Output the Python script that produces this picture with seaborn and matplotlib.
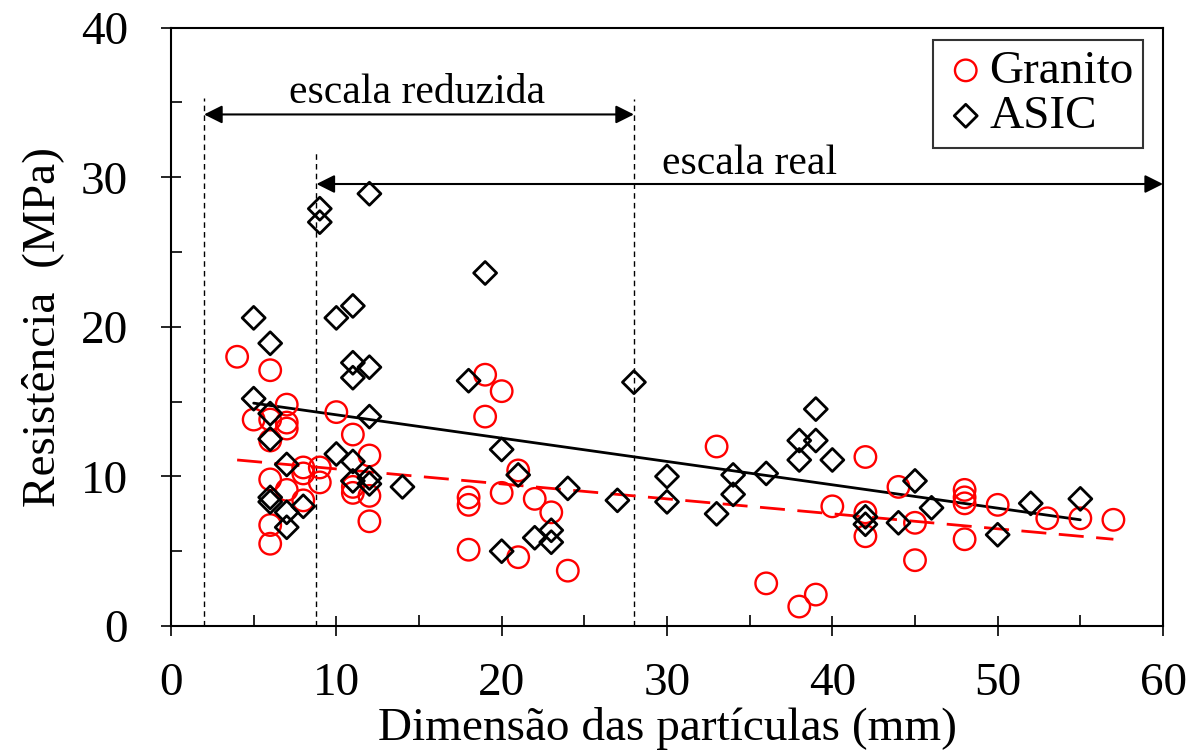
import matplotlib
matplotlib.use("Agg")
import matplotlib.pyplot as plt
import seaborn as sns
import pandas as pd
from matplotlib.ticker import MultipleLocator

# ---------------- data ----------------
granito_x = [4, 6, 7, 5, 6, 7, 7, 6, 10, 11, 12, 8, 8, 9, 9, 6, 7, 8, 11, 11, 12, 6, 6, 12,
             19, 20, 19, 21, 18, 18, 20, 22, 23, 18, 21, 24,
             33, 42, 40, 42, 42, 44, 36, 39, 38, 45, 45, 48, 48, 48, 48, 50, 53, 55, 57]
granito_y = [18.0, 17.1, 14.8, 13.8, 13.8, 13.6, 13.2, 12.4, 14.3, 12.8, 11.4, 10.6, 10.2, 10.6, 9.6,
             9.8, 9.1, 8.4, 9.3, 8.9, 8.7, 6.75, 5.5, 7.0,
             16.8, 15.7, 14.0, 10.4, 8.6, 8.1, 8.9, 8.5, 7.6, 5.1, 4.6, 3.7,
             12.0, 11.3, 8.0, 7.6, 6.0, 9.3, 2.85, 2.1, 1.3, 6.9, 4.4, 9.1, 8.6, 8.2, 5.8, 8.1, 7.2, 7.2, 7.1]

asic_x = [5, 6, 5, 6, 6, 7, 6, 6, 7, 7, 8, 10, 11, 11, 11, 12, 12, 10, 11, 11, 12, 12, 14,
          9, 9, 12, 19, 18, 28, 20, 21, 24, 27, 22, 23, 23, 20,
          30, 30, 33, 34, 34, 36, 39, 38, 39, 38, 40, 42, 42, 44, 45, 46, 50, 52, 55]
asic_y = [20.6, 18.9, 15.2, 14.2, 12.5, 10.8, 8.6, 8.3, 7.6, 6.6, 8.0, 20.6, 21.4, 17.6, 16.6, 17.3,
          14.0, 11.5, 11.0, 9.7, 9.9, 9.5, 9.3,
          27.9, 27.0, 28.9, 23.6, 16.4, 16.3, 11.8, 10.1, 9.2, 8.4, 5.9, 6.4, 5.6, 5.0,
          10.0, 8.3, 7.5, 10.1, 8.8, 10.2, 14.5, 12.4, 12.4, 11.1, 11.1, 7.3, 6.8, 6.9, 9.7, 7.9, 6.1, 8.2, 8.5]

granito_trend_x = [4, 57]
granito_trend_y = [11.1, 5.8]
asic_trend_x = [5, 55]
asic_trend_y = [14.9, 7.1]

x_ticks = [0, 10, 20, 30, 40, 50, 60]
y_ticks = [0, 10, 20, 30, 40]

scale_line_x = [2, 8.8, 28]
scale_line_top = [35.3, 31.6, 35.2]
reduzida_span = [2, 28]
reduzida_level = 34.2
real_span = [8.8, 60]
real_level = 29.55

series_labels = ["Granito", "ASIC"]
x_label = "Dimensão das partículas (mm)"
y_label = "Resistência  (MPa)"

# ---------------- style ----------------
sns.set_theme(style="white")
plt.rcParams["font.family"] = ["Liberation Serif", "DejaVu Serif"]
plt.rcParams["text.color"] = "black"
plt.rcParams["axes.labelcolor"] = "black"
plt.rcParams["xtick.color"] = "black"
plt.rcParams["ytick.color"] = "black"

W, H = 1201, 750
fig = plt.figure(figsize=(W / 100, H / 100), dpi=100)
ax = fig.add_axes([171 / W, 1 - 626 / H, 992 / W, 598.3 / H])

# vertical dashed scale lines
for xv, top in zip(scale_line_x, scale_line_top):
    ax.plot([xv, xv], [0, top], color="black", lw=1.0, linestyle=(0, (4, 3)), zorder=1)

# arrows
arrow_kw = dict(arrowstyle="<|-|>,head_length=0.5,head_width=0.25", color="black",
                lw=1.5, mutation_scale=22, shrinkA=0, shrinkB=0)
ax.annotate("", xy=(reduzida_span[0], reduzida_level), xytext=(reduzida_span[1], reduzida_level),
            arrowprops=arrow_kw, annotation_clip=False)
ax.annotate("", xy=(real_span[0], real_level), xytext=(real_span[1], real_level),
            arrowprops=arrow_kw, annotation_clip=False)
ax.text(14.86, 34.96, "escala reduzida", ha="center", va="baseline", fontsize=30, color="black")
ax.text(34.97, 30.2, "escala real", ha="center", va="baseline", fontsize=30, color="black")

# trend lines
sns.lineplot(x=asic_trend_x, y=asic_trend_y, ax=ax, color="black", lw=2.0,
             estimator=None, sort=False, zorder=2)
sns.lineplot(x=granito_trend_x, y=granito_trend_y, ax=ax, color="red", lw=2.0,
             linestyle=(0, (9, 4.5)), estimator=None, sort=False, zorder=2)

# scatter
g_df = pd.DataFrame({"x": granito_x, "y": granito_y})
a_df = pd.DataFrame({"x": asic_x, "y": asic_y})
sns.scatterplot(data=g_df, x="x", y="y", ax=ax, marker="o", s=240, facecolor="none",
                edgecolor="red", linewidth=1.7, label=series_labels[0], zorder=3)
sns.scatterplot(data=a_df, x="x", y="y", ax=ax, marker="D", s=137, facecolor="none",
                edgecolor="black", linewidth=2.0, label=series_labels[1], zorder=3)

# axes
ax.set_xlim(0, 60)
ax.set_ylim(0, 40)
ax.xaxis.set_major_locator(MultipleLocator(10))
ax.xaxis.set_minor_locator(MultipleLocator(5))
ax.yaxis.set_major_locator(MultipleLocator(10))
ax.yaxis.set_minor_locator(MultipleLocator(5))
ax.set_xticks(x_ticks)
ax.set_yticks(y_ticks)
for s in ax.spines.values():
    s.set_visible(True)
    s.set_color("black")
    s.set_linewidth(1.5)
ax.tick_params(axis="both", which="major", direction="inout", length=14, width=1.2,
               color="black", labelsize=34, labelcolor="black",
               bottom=True, left=True, top=False, right=False)
ax.tick_params(axis="x", which="major", pad=19)
ax.tick_params(axis="y", which="major", pad=24)
ax.tick_params(axis="both", which="minor", direction="in", length=8, width=1.2,
               color="black", bottom=True, left=True, top=False, right=False)
ax.set_xlabel(x_label, fontsize=34, color="black", labelpad=2)
ax.set_ylabel(y_label, fontsize=34, color="black", labelpad=12)

leg = ax.legend(loc="upper right", bbox_to_anchor=(0.98, 0.979), borderaxespad=0,
                fontsize=34, frameon=True, fancybox=False, edgecolor="black",
                handletextpad=0.0, labelspacing=0.05, borderpad=0.2, handlelength=1.0)
leg.get_frame().set_linewidth(1.5)
for t in leg.get_texts():
    t.set_color("black")

fig.savefig("out.png", dpi=100, facecolor="white")
